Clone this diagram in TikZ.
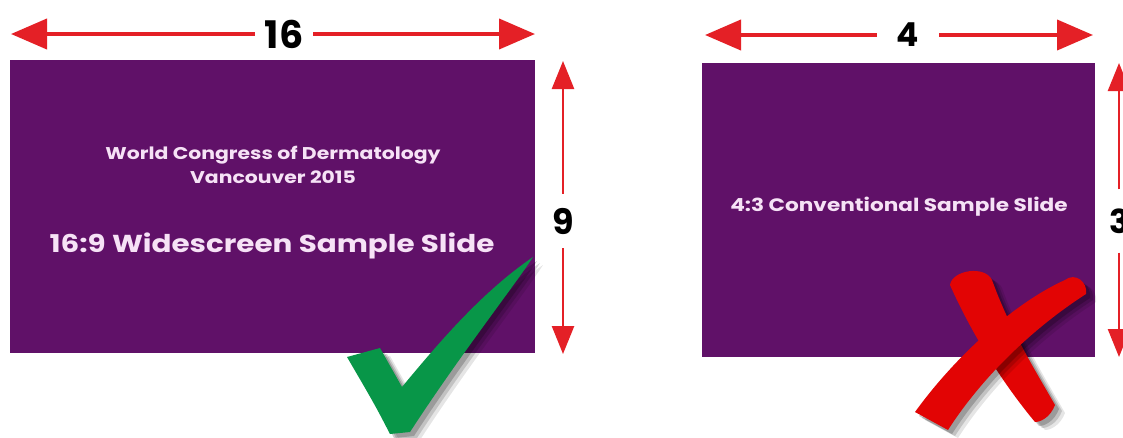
\documentclass[tikz,border=0pt]{standalone}
\usepackage{fontspec}
\setmainfont{Poppins}
\newfontfamily\slidefont{Poppins}[FakeStretch=1.2]
\usetikzlibrary{positioning,arrows.meta,shadows}
\definecolor{slidepurple}{RGB}{96,17,104}
\definecolor{dimred}{RGB}{228,32,38}
\definecolor{slidetext}{RGB}{246,226,246}
\definecolor{tickgreen}{RGB}{8,150,72}
\definecolor{crossred}{RGB}{226,4,4}

\begin{document}
\begin{tikzpicture}[x=1pt,y=-1pt,
  slide/.style={fill=slidepurple, inner sep=0pt},
  slidetitle/.style={text=slidetext, align=center, inner sep=0pt},
  dimlabel/.style={inner sep=0pt},
  dimh/.style={draw=dimred, line width=4pt, -{Triangle[length=36pt,width=30pt]}},
  dimv/.style={draw=dimred, line width=2.5pt, -{Triangle[length=28pt,width=22pt]}},
  markshadow/.style={
    drop shadow={shadow xshift=4pt,shadow yshift=-4pt,opacity=0.2,fill=black},
    drop shadow={shadow xshift=7pt,shadow yshift=-6pt,opacity=0.15,fill=black},
    drop shadow={shadow xshift=10pt,shadow yshift=-8pt,opacity=0.1,fill=black}}]
\clip (0,0) rectangle (1123,437);
\fill[white] (0,0) rectangle (1123,437);

\node[slide, minimum width=525pt, minimum height=293pt] (wide) at (272.5,206.5) {};
\node[slide, minimum width=393pt, minimum height=294pt] (conv) at (898.5,210) {};

\node[slidetitle, font=\slidefont\bfseries\fontsize{17}{24}\selectfont] (congress) at (273,165) {World Congress of Dermatology\\Vancouver 2015};
\node[slidetitle, font=\slidefont\bfseries\fontsize{24.5}{28}\selectfont] (widetitle) at (272,246) {16:9 Widescreen Sample Slide};
\node[slidetitle, font=\slidefont\bfseries\fontsize{18}{20}\selectfont] (convtitle) at (899,207) {4:3 Conventional Sample Slide};

\node[dimlabel, inner xsep=10pt, font=\bfseries\fontsize{38}{38}\selectfont] (w16) at (284,34) {16};
\node[dimlabel, inner ysep=14pt, font=\bfseries\fontsize{35}{35}\selectfont] (h9) at (563,221) {9};
\node[dimlabel, inner xsep=20pt, font=\bfseries\fontsize{33}{33}\selectfont] (w4) at (908,35) {4};
\node[dimlabel, inner ysep=19pt, font=\bfseries\fontsize{33}{33}\selectfont] (h3) at (1119,221) {3};

\coordinate (w16l) at (11,34);
\coordinate (w16r) at (535,34);
\coordinate (h9t) at (563,61);
\coordinate (h9b) at (563,354);
\coordinate (w4l) at (705,35);
\coordinate (w4r) at (1093,35);
\coordinate (h3t) at (1119,63);
\coordinate (h3b) at (1119,357);

\draw[dimh] (w16) -- (w16l);
\draw[dimh] (w16) -- (w16r);
\draw[dimv] (h9) -- (h9t);
\draw[dimv] (h9) -- (h9b);
\draw[dimh] (w4) -- (w4l);
\draw[dimh] (w4) -- (w4r);
\draw[dimv] (h3) -- (h3t);
\draw[dimv] (h3) -- (h3b);

\fill[tickgreen, markshadow] (347,357) -- (380,348) -- (402,387) .. controls (445,335) and (485,290) .. (533,257) .. controls (515,285) and (460,355) .. (410,432) -- (390,434) .. controls (375,405) .. (347,357) -- cycle;

\fill[crossred, markshadow] (950,285) .. controls (952,270) and (985,265) .. (992,280) .. controls (1010,330) and (1035,370) .. (1055,405) .. controls (1050,418) and (1040,422) .. (1035,422) .. controls (1000,380) and (970,330) .. (950,285) -- cycle;
\fill[crossred, markshadow] (1065,280) .. controls (1075,272) and (1088,282) .. (1086,294) .. controls (1030,330) and (980,380) .. (948,430) -- (915,412) .. controls (960,350) and (1020,300) .. (1065,280) -- cycle;
\end{tikzpicture}
\end{document}
